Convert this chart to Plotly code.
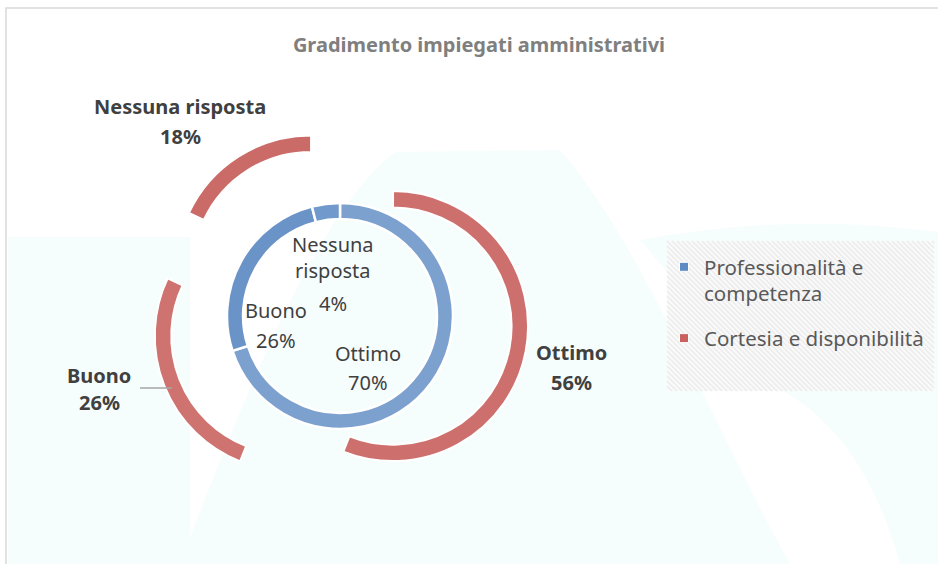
import plotly.graph_objects as go

# ---------------- data ----------------
title_text = "Gradimento impiegati amministrativi"
categories = ["Ottimo", "Buono", "Nessuna risposta"]
series_names = ["Professionalità e competenza", "Cortesia e disponibilità"]
legend_labels = ["Professionalità e<br>competenza", "Cortesia e disponibilità"]
prof_values = [70, 26, 4]      # inner ring
cort_values = [56, 26, 18]     # outer ring (exploded)

# ---------------- style ----------------
W, H = 938, 564
FONT = "Noto Sans"
TXT = "#404040"
blue_main = "#5f8bc4"
red_main = "#c9615e"
inner_colors = ["#7ca1cf", "#6a93c7", "#7299cb"]
outer_colors = ["#cd706d", "#ce736f", "#cb6b68"]


def px(x):
    return x / W


def py(y):
    return 1 - y / H


fig = go.Figure()

# inner ring
fig.add_trace(go.Pie(
    labels=categories, values=prof_values, name=series_names[0],
    hole=0.858, sort=False, direction="clockwise", rotation=0,
    textinfo="none", hovertemplate="%{label}: %{percent}<extra>" + series_names[0] + "</extra>",
    marker=dict(colors=inner_colors, line=dict(color="white", width=2.5)),
    domain=dict(x=[px(227), px(453)], y=[py(429), py(203)]),
    showlegend=False,
))

# outer ring (exploded)
fig.add_trace(go.Pie(
    labels=categories, values=cort_values, name=series_names[1],
    hole=0.878, sort=False, direction="clockwise", rotation=0,
    pull=[0.4] * len(cort_values),
    textinfo="none", hovertemplate="%{label}: %{percent}<extra>" + series_names[1] + "</extra>",
    marker=dict(colors=outer_colors, line=dict(color="white", width=2)),
    domain=dict(x=[px(151), px(529)], y=[py(505), py(127)]),
    showlegend=False,
))

# legend entries
for lab, col, grp in [(legend_labels[0], blue_main, "a"), (legend_labels[1], red_main, "b")]:
    fig.add_trace(go.Scatter(
        x=[None], y=[None], mode="markers", name=lab, legendgroup=grp,
        marker=dict(symbol="square", size=9, color=col, line=dict(color="white", width=1)),
    ))

# ---------------- labels ----------------
inner_pos = {"Ottimo": [(368, 353), (368, 382)],
             "Buono": [(276, 310), (276, 340)],
             "Nessuna risposta": [(333, 257), (333, 303)]}
outer_pos = {"Ottimo": [(571, 352), (571, 382)],
             "Buono": [(99, 375), (99, 403)],
             "Nessuna risposta": [(180, 107), (180, 136)]}

annotations = []
total_in = sum(prof_values)
for cat, v in zip(categories, prof_values):
    (nx, ny), (vx, vy) = inner_pos[cat]
    name = cat.replace(" ", "<br>")
    annotations.append(dict(x=px(nx), y=py(ny), text=name, showarrow=False,
                            xanchor="center", yanchor="middle", xref="paper", yref="paper",
                            font=dict(family=FONT, size=20, color=TXT)))
    annotations.append(dict(x=px(vx), y=py(vy), text=f"{round(100 * v / total_in)}%", showarrow=False,
                            xanchor="center", yanchor="middle", xref="paper", yref="paper",
                            font=dict(family=FONT, size=20, color=TXT)))
total_out = sum(cort_values)
for cat, v in zip(categories, cort_values):
    (nx, ny), (vx, vy) = outer_pos[cat]
    annotations.append(dict(x=px(nx), y=py(ny), text=f"<b>{cat}</b>", showarrow=False,
                            xanchor="center", yanchor="middle", xref="paper", yref="paper",
                            font=dict(family=FONT, size=20, color=TXT)))
    annotations.append(dict(x=px(vx), y=py(vy), text=f"<b>{round(100 * v / total_out)}%</b>", showarrow=False,
                            xanchor="center", yanchor="middle", xref="paper", yref="paper",
                            font=dict(family=FONT, size=20, color=TXT)))

# ---------------- decoration shapes ----------------
WM = "#f6fdfd"
shapes = []


def P(x, y):
    return f"{px(x):.5f},{py(y):.5f}"


# faint watermark shapes
shapes.append(dict(type="rect", xref="paper", yref="paper", layer="below",
                   x0=px(8), x1=px(190), y0=py(564), y1=py(237),
                   fillcolor=WM, line=dict(width=0)))
shapes.append(dict(type="path", xref="paper", yref="paper", layer="below",
                   path=f"M {P(180,564)} C {P(250,380)} {P(320,210)} {P(395,152)} "
                        f"L {P(560,150)} C {P(640,240)} {P(720,440)} {P(790,564)} Z",
                   fillcolor=WM, line=dict(width=0)))
shapes.append(dict(type="path", xref="paper", yref="paper", layer="below",
                   path=f"M {P(640,240)} Q {P(790,212)} {P(938,232)} L {P(938,564)} "
                        f"L {P(900,564)} Q {P(860,420)} {P(760,380)} Z",
                   fillcolor=WM, line=dict(width=0)))

# legend box with hatch
LX0, LX1, LY0, LY1 = 667, 934, 241, 391
shapes.append(dict(type="rect", xref="paper", yref="paper", layer="below",
                   x0=px(LX0), x1=px(LX1), y0=py(LY1), y1=py(LY0),
                   fillcolor="#fafafa", line=dict(width=0)))
step = 5
c = -(LY1 - LY0)
while c < (LX1 - LX0):
    t0 = max(0, -c)
    t1 = min(LY1 - LY0, (LX1 - LX0) - c)
    if t1 > t0:
        shapes.append(dict(type="line", xref="paper", yref="paper", layer="below",
                           x0=px(LX0 + c + t0), y0=py(LY0 + t0),
                           x1=px(LX0 + c + t1), y1=py(LY0 + t1),
                           line=dict(color="#ececec", width=1.6)))
    c += step

# chart border
shapes.append(dict(type="rect", xref="paper", yref="paper", layer="below",
                   x0=px(6), x1=px(945), y0=py(572), y1=py(8),
                   fillcolor="rgba(0,0,0,0)", line=dict(color="#d9d9d9", width=1.5)))

# leader line for outer "Buono"
shapes.append(dict(type="line", xref="paper", yref="paper", layer="above",
                   x0=px(140), x1=px(172), y0=py(388), y1=py(388),
                   line=dict(color="#a6a6a6", width=1.5)))

fig.update_layout(
    width=W, height=H, autosize=False,
    margin=dict(l=0, r=0, t=0, b=0),
    paper_bgcolor="white", plot_bgcolor="rgba(0,0,0,0)",
    font=dict(family=FONT, color=TXT),
    title=dict(text=f"<b>{title_text}</b>", x=px(479), y=py(45),
               xanchor="center", yanchor="middle",
               font=dict(family=FONT, size=20, color="#7f7f7f")),
    xaxis=dict(visible=False), yaxis=dict(visible=False),
    legend=dict(x=px(664), y=py(247), xanchor="left", yanchor="top",
                bgcolor="rgba(0,0,0,0)", borderwidth=0,
                font=dict(family=FONT, size=20.5, color="#595959"),
                valign="top", tracegroupgap=15, itemclick=False, itemdoubleclick=False),
    annotations=annotations,
    shapes=shapes,
)

fig.write_html("out.html", config={"displayModeBar": False},
               post_script="document.body.style.margin='0';document.body.style.overflow='hidden';")
